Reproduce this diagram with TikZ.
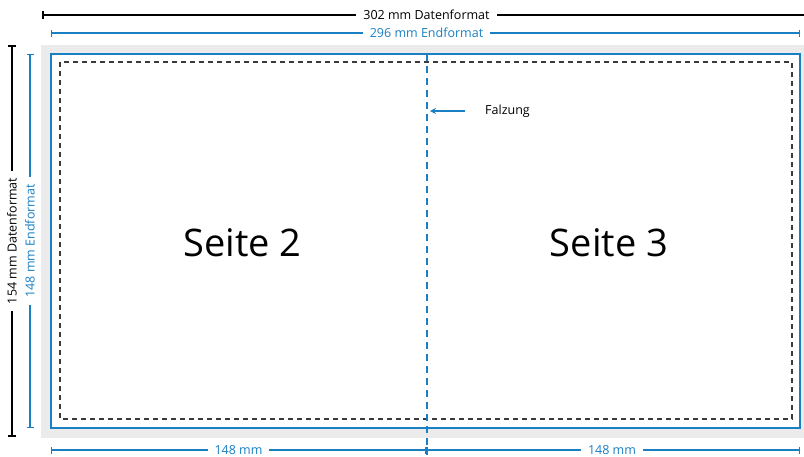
\documentclass[tikz,border=0pt]{standalone}
\usepackage{fontspec}
\setmainfont{Open Sans}
\usetikzlibrary{positioning,calc,arrows.meta}
\definecolor{falzblau}{HTML}{1A80C4}
\definecolor{randgrau}{HTML}{EBEBEB}
\definecolor{schnitt}{HTML}{3A3A3A}

\begin{document}
\begin{tikzpicture}[x=1pt,y=-1pt,
    klein/.style={font=\fontsize{12.5}{15}\selectfont, inner xsep=7pt, inner ysep=1pt, fill=white},
    gross/.style={font=\fontsize{38}{44}\selectfont, anchor=base},
    masslinie/.style={line width=1.8pt, {Bar[width=8pt,line width=1.8pt]}-{Bar[width=8pt,line width=1.8pt]}},
    masslinieblau/.style={falzblau, line width=1.4pt, {Bar[width=7pt,line width=1.4pt]}-{Bar[width=7pt,line width=1.4pt]}}]
    \useasboundingbox (0,0) rectangle (804,456);
    % Datenformat (Beschnitt)
    \fill[randgrau] (41,45) rectangle (808,438);
    % Endformat
    \coordinate (E1) at (51,54);
    \coordinate (E2) at (800,428);
    \draw[falzblau, line width=2pt, fill=white] (E1) rectangle (E2);
    % Sicherheitsabstand
    \coordinate (S1) at (60,62);
    \coordinate (S2) at (792,419);
    \draw[schnitt, line width=1.2pt, dash pattern=on 5pt off 4pt] (S1) rectangle (S2);
    % Falz
    \coordinate (F1) at (426.5,54);
    \coordinate (F2) at (426.5,455);
    \draw[falzblau, line width=2pt, dash pattern=on 7pt off 5pt] (F1) -- (F2);
    \node (falz) [anchor=west, font=\fontsize{12.5}{15}\selectfont, inner xsep=20pt] at (465,111) {Falzung};
    \coordinate (falzpfeil) at (430,111);
    \draw[falzblau, line width=1.4pt, -{Stealth[length=6pt,width=6pt]}] (falz.west) -- (falzpfeil);
    % Seiten
    \node (seite2) [gross] at (242.5,256) {Seite 2};
    \node (seite3) [gross] at (609,256) {Seite 3};
    % Masse oben
    \coordinate (OL) at (42,15);
    \coordinate (OR) at (812,15);
    \draw[masslinie] (OL) -- (OR);
    \node (obenDaten) [klein] at (426.5,15) {302 mm Datenformat};
    \coordinate (BL) at (51,33);
    \coordinate (BR) at (800,33);
    \draw[masslinieblau] (BL) -- (BR);
    \node (obenEnd) [klein, text=falzblau] at (426.5,33) {296 mm Endformat};
    % Masse links
    \coordinate (LO) at (12,45);
    \coordinate (LU) at (12,437);
    \draw[masslinie] (LO) -- (LU);
    \node (linksDaten) [klein, rotate=90] at (12,241) {154 mm Datenformat};
    \coordinate (LBO) at (30,54);
    \coordinate (LBU) at (30,428);
    \draw[masslinieblau] (LBO) -- (LBU);
    \node (linksEnd) [klein, rotate=90, text=falzblau] at (30,241) {148 mm Endformat};
    % Masse unten
    \coordinate (UL) at (51,450);
    \coordinate (UM) at (426.5,450);
    \coordinate (UR) at (800,450);
    \draw[masslinieblau] (UL) -- (UM);
    \draw[masslinieblau] (UM) -- (UR);
    \node (unten2) [klein, text=falzblau] at (238.5,450) {148 mm};
    \node (unten3) [klein, text=falzblau] at (612,450) {148 mm};
\end{tikzpicture}
\end{document}
